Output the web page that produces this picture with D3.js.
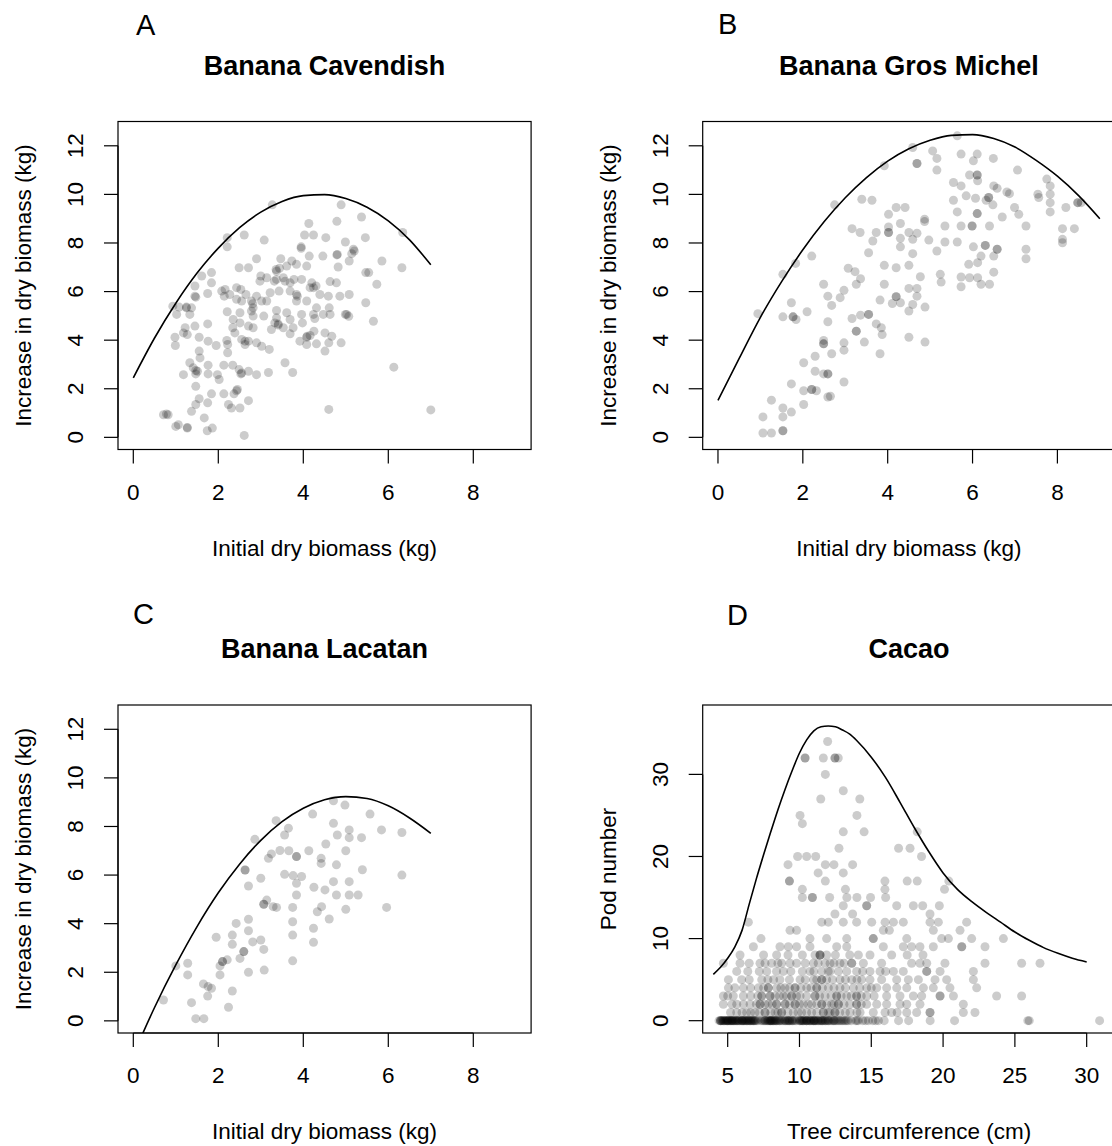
<!DOCTYPE html>
<html><head><meta charset="utf-8">
<script src="https://cdn.jsdelivr.net/npm/d3@7"></script>
<style>body{margin:0;background:#fff}svg{display:block}text{font-family:"Liberation Sans",Arial,Helvetica,sans-serif;fill:#000}</style>
</head><body><svg id="c" width="1112" height="1146"></svg>
<script>
// ---------- DATA ----------
const bioTicksX = [0, 2, 4, 6, 8];
const bioTicksY = [0, 2, 4, 6, 8, 10, 12];
const cacaoTicksX = [5, 10, 15, 20, 25, 30];
const cacaoTicksY = [0, 10, 20, 30];

// Banana Cavendish: [initial dry biomass, increase]
const cavendish = [[3.27,9.57],[4.89,9.57],[4.13,8.80],[4.79,8.89],[5.37,9.07],[6.34,8.43],[2.21,8.22],[2.61,8.33],[3.08,8.12],[4.03,8.33],[4.24,8.33],[4.53,8.22],[5.46,8.22],[2.21,7.84],[3.95,7.84],[4.99,8.04],[5.18,7.74],[5.14,7.56],[2.90,7.35],[3.47,7.35],[3.73,7.26],[4.14,7.46],[4.46,7.46],[4.79,7.51],[5.08,7.26],[5.85,7.26],[2.49,6.98],[2.71,6.98],[3.36,6.91],[3.44,6.96],[3.61,7.05],[3.84,7.12],[4.08,7.05],[4.82,7.01],[5.47,6.78],[5.54,6.78],[6.32,6.98],[1.84,6.78],[1.61,6.64],[3.00,6.64],[3.14,6.57],[3.37,6.50],[3.57,6.43],[3.78,6.50],[3.96,6.50],[4.20,6.36],[4.30,6.23],[4.63,6.41],[4.78,6.36],[5.73,6.30],[1.84,6.36],[1.45,6.23],[2.08,6.02],[2.16,6.09],[2.43,6.16],[2.53,6.09],[2.65,5.88],[1.45,5.81],[1.75,5.92],[2.27,5.88],[3.22,5.95],[3.43,6.02],[3.69,6.02],[3.84,5.88],[4.16,6.16],[4.39,5.88],[4.59,5.81],[4.86,5.81],[5.08,5.88],[0.93,5.40],[1.08,5.36],[1.25,5.36],[1.37,5.33],[1.02,5.06],[1.33,5.06],[2.43,5.68],[2.78,5.61],[2.82,5.33],[2.90,5.81],[3.14,5.61],[3.37,5.22],[3.61,5.13],[3.84,5.61],[4.08,5.61],[4.31,5.33],[4.61,5.33],[5.47,5.54],[2.21,5.17],[2.51,5.13],[2.82,4.99],[3.07,4.99],[3.96,5.06],[4.24,5.06],[4.27,4.89],[4.99,5.06],[5.07,4.98],[5.65,4.78],[1.75,4.67],[1.45,4.58],[1.22,4.51],[2.34,4.51],[2.51,4.71],[2.71,4.58],[3.33,4.71],[3.41,4.67],[3.25,4.44],[3.53,4.51],[3.69,4.26],[3.76,4.51],[3.98,4.71],[4.08,4.12],[4.16,4.19],[4.25,4.37],[4.51,4.30],[4.67,4.16],[1.18,4.30],[0.98,4.12],[0.99,3.78],[1.27,4.23],[1.55,4.12],[1.76,3.96],[1.95,3.78],[2.20,3.99],[2.22,3.82],[2.39,4.30],[2.55,4.03],[2.63,3.82],[2.71,3.96],[2.90,3.89],[3.02,3.75],[3.20,3.62],[3.92,3.96],[4.08,3.82],[4.31,3.85],[4.51,3.55],[4.60,3.89],[4.89,3.89],[1.55,3.55],[1.57,3.27],[2.22,3.48],[1.33,3.07],[1.41,2.86],[1.51,2.72],[1.18,2.58],[1.47,2.61],[1.76,2.97],[1.76,2.61],[1.98,2.58],[2.02,2.38],[2.13,2.97],[2.34,2.97],[2.49,2.79],[2.53,2.61],[2.71,2.72],[2.90,2.58],[3.18,2.67],[3.57,3.07],[3.75,2.67],[6.13,2.89],[1.47,2.10],[1.55,1.59],[1.47,1.35],[1.37,1.07],[1.75,1.42],[1.84,1.79],[2.13,1.79],[2.24,1.35],[2.31,1.21],[2.37,1.79],[2.45,1.97],[2.51,1.21],[2.71,1.51],[0.71,0.93],[0.82,0.93],[1.00,0.45],[1.27,0.38],[1.06,0.52],[1.67,0.80],[1.74,0.27],[1.86,0.38],[2.61,0.08],[4.60,1.15],[7.00,1.13],[3.37,6.84],[3.32,6.43],[2.81,5.50],[2.63,3.96],[2.55,2.65],[1.47,2.75],[1.27,0.41],[3.95,7.78],[3.86,5.81],[4.09,4.16],[3.41,4.62],[4.80,7.53],[5.20,7.67],[5.02,5.06],[1.47,5.77],[2.78,5.20],[2.43,1.92],[0.78,0.96],[1.25,5.33],[4.24,6.16],[3.53,6.57],[3.69,6.36],[2.98,6.43],[2.14,5.81],[2.55,5.61],[3.02,5.61],[3.37,4.92],[3.69,4.85],[2.35,4.85],[2.82,4.51],[4.47,5.06],[4.63,5.06]];

// Banana Gros Michel
const grosMichel = [[5.64,12.41],[4.59,11.93],[5.06,11.79],[5.16,11.48],[5.73,11.66],[6.11,11.66],[6.02,11.38],[6.49,11.48],[4.69,11.27],[4.69,11.27],[3.92,11.18],[5.16,11.00],[7.06,11.00],[5.93,10.80],[6.11,10.80],[6.11,10.80],[6.12,10.56],[5.55,10.49],[5.73,10.35],[6.50,10.35],[6.58,10.25],[6.81,10.10],[6.87,10.03],[7.75,10.63],[7.83,10.35],[7.83,10.01],[7.54,10.01],[7.56,9.87],[5.85,9.94],[6.07,9.84],[6.32,9.76],[6.38,9.87],[6.38,9.87],[6.48,9.57],[5.55,9.76],[7.83,9.66],[7.83,9.28],[8.20,9.46],[8.48,9.66],[8.48,9.66],[8.56,9.66],[6.99,9.46],[7.09,9.18],[6.70,9.07],[7.26,8.70],[6.11,9.21],[6.11,9.21],[5.64,9.28],[3.39,9.80],[3.63,9.76],[2.75,9.57],[4.02,9.18],[4.20,9.46],[4.41,9.46],[4.87,8.98],[4.87,8.88],[4.30,8.80],[4.02,8.66],[4.02,8.43],[4.02,8.43],[5.35,8.70],[5.73,8.70],[5.99,8.70],[5.99,8.70],[6.40,8.70],[3.16,8.59],[3.35,8.43],[3.73,8.43],[3.65,8.08],[4.30,8.19],[4.30,7.84],[4.50,8.43],[4.69,8.40],[4.59,8.15],[4.97,8.12],[5.35,8.04],[5.64,8.04],[8.12,8.59],[8.40,8.59],[8.12,8.15],[8.12,8.01],[6.02,7.84],[6.30,7.90],[6.30,7.90],[6.58,7.74],[6.58,7.74],[6.50,7.46],[7.26,7.74],[7.26,7.35],[5.16,7.67],[3.55,7.60],[4.59,7.56],[2.21,7.46],[1.83,7.16],[1.53,6.71],[3.07,6.96],[3.23,6.82],[3.36,6.53],[3.26,6.30],[3.92,7.08],[4.20,6.98],[4.50,7.08],[5.91,7.12],[6.20,7.46],[6.12,7.19],[6.50,6.80],[5.24,6.71],[5.26,6.39],[5.73,6.60],[5.73,6.20],[5.93,6.57],[6.12,6.57],[6.20,6.30],[6.40,6.30],[4.77,6.61],[3.92,6.30],[2.49,6.30],[2.97,6.05],[2.88,5.75],[2.59,5.81],[2.68,5.43],[3.82,5.65],[4.20,5.79],[4.20,5.79],[4.30,5.54],[4.11,5.51],[4.50,6.13],[4.69,6.13],[4.69,5.81],[4.59,5.47],[4.50,5.20],[4.88,5.36],[1.73,5.54],[0.94,5.09],[1.53,4.96],[1.77,4.96],[1.77,4.96],[1.84,4.85],[2.10,5.17],[3.16,4.89],[3.36,5.03],[3.55,5.06],[3.55,5.06],[2.59,4.76],[3.73,4.67],[3.85,4.51],[3.87,4.23],[3.26,4.37],[3.26,4.37],[2.49,3.99],[2.49,3.85],[2.49,3.85],[2.97,3.89],[2.97,3.59],[3.45,3.92],[3.82,3.44],[4.50,4.12],[4.88,3.92],[2.68,3.44],[2.29,3.34],[2.02,3.07],[2.29,2.72],[2.49,2.61],[2.59,2.61],[2.59,2.61],[2.97,2.28],[1.73,2.20],[2.21,1.97],[2.21,1.97],[2.02,1.92],[2.32,1.92],[2.59,1.66],[2.65,1.69],[2.02,1.35],[1.26,1.53],[1.53,1.21],[1.73,1.04],[1.53,0.84],[1.06,0.84],[1.06,0.18],[1.26,0.18],[1.53,0.27],[1.53,0.27]];

// Banana Lacatan
const lacatan = [[4.71,9.06],[4.98,8.88],[4.22,8.51],[5.57,8.51],[3.36,8.24],[3.65,7.93],[4.71,8.13],[5.08,7.86],[3.56,7.65],[4.80,7.65],[5.08,7.54],[5.37,7.54],[5.84,7.86],[6.32,7.75],[2.86,7.47],[4.53,7.28],[5.00,7.00],[4.13,7.00],[3.25,6.87],[3.45,7.01],[3.66,7.00],[3.18,6.69],[3.84,6.76],[3.84,6.76],[4.42,6.69],[4.42,6.48],[4.78,6.42],[2.63,6.21],[2.63,6.21],[5.39,6.22],[3.00,5.87],[2.71,5.55],[3.56,6.03],[3.76,5.98],[3.96,5.94],[3.84,5.66],[4.25,5.50],[4.51,5.39],[4.71,5.73],[5.08,5.73],[6.32,6.00],[3.84,5.18],[4.78,5.18],[5.08,5.18],[5.29,5.18],[3.14,4.97],[5.00,4.59],[4.33,4.49],[4.43,4.70],[4.61,4.19],[5.96,4.67],[3.75,4.67],[3.07,4.80],[3.07,4.80],[3.29,4.70],[3.37,4.67],[3.75,4.08],[3.75,3.53],[2.71,4.18],[2.71,3.71],[2.42,4.01],[2.33,3.53],[2.33,3.15],[1.95,3.44],[2.81,3.25],[3.00,3.33],[3.07,2.94],[2.60,2.85],[2.60,2.85],[2.51,2.57],[2.21,2.51],[2.10,2.44],[2.10,2.44],[2.04,2.26],[2.04,1.89],[2.71,2.00],[3.08,2.09],[3.75,2.47],[4.24,3.81],[4.24,3.23],[1.28,2.37],[1.28,1.89],[1.00,2.26],[1.65,1.52],[1.76,1.41],[1.84,1.34],[1.75,1.02],[2.33,1.23],[0.71,0.86],[1.37,0.75],[2.24,0.56],[1.47,0.09],[1.66,0.09]];

// Cacao: [pod number, tree circumferences (cm)]
const cacao = [
 [0,[4.4,4.5,4.5,4.6,4.7,4.7,4.8,4.9,4.9,5.0,5.0,5.1,5.2,5.2,5.3,5.3,5.4,5.5,5.5,5.6,5.7,5.7,5.8,5.9,6.0,6.0,6.1,6.2,6.2,6.3,6.4,6.5,6.5,6.6,6.7,6.8,6.8,6.9,7.0,7.1,7.3,7.5,7.6,7.7,7.8,7.8,7.9,8.0,8.0,8.1,8.2,8.2,8.3,8.4,8.5,8.6,8.7,8.9,9.0,9.1,9.2,9.2,9.3,9.4,9.5,9.6,9.8,10.0,10.1,10.1,10.2,10.3,10.4,10.5,10.5,10.6,10.7,10.8,10.9,11.0,11.0,11.1,11.2,11.3,11.4,11.5,11.6,11.7,11.8,11.9,12.0,12.2,12.4,12.6,12.8,13.1,13.3,13.6,13.9,14.1,14.4,14.8,15.1,15.5,15.9,16.9,17.6,19.1,20.8,25.9,26.0,30.9,4.5,4.6,4.8,5.0,5.1,5.3,5.4,5.6,5.8,6.0,6.1,6.3,6.4,6.6,6.7,6.9,7.4,7.6,7.9,8.0,8.1,8.3,8.4,8.6,8.8,9.0,9.3,9.5,9.7,10.0,10.2,10.3,10.5,10.7,10.8,11.0,11.1,11.3,11.5,11.6,11.8,12.0,12.1,12.3,12.5,12.7,13.0,13.4,14.0,14.6,15.3,12.4,12.9,13.2]],
 [1,[5.63,6.32,6.90,7.60,7.60,8.30,8.76,8.76,9.57,10.15,10.85,11.66,11.66,12.13,12.47,12.47,13.52,14.22,15.14,15.96,16.42,17.47,18.16,19.09,19.09,21.41,22.22,5.2,6.0,6.6,7.2,8.0,8.5,9.2,9.9,10.5,11.2,12.0,12.8,13.2,14.0,16.8]],
 [2,[4.70,5.63,6.56,7.25,7.25,7.83,8.41,8.41,8.99,9.69,9.69,10.27,10.85,11.55,11.55,12.24,12.71,12.71,13.98,13.98,14.68,15.38,16.07,17.47,18.39,21.41,5.3,6.1,7.0,7.6,8.1,9.0,9.3,10.0,10.6,11.2,11.9,12.4,13.1,13.5,14.3,17.0]],
 [3,[4.70,5.39,6.09,7.37,7.37,7.95,7.95,8.88,9.46,9.46,10.04,11.08,11.08,11.78,12.59,12.59,13.29,13.98,13.98,14.68,16.07,17.00,17.93,18.51,19.79,19.79,20.72,23.73,25.47,5.0,6.6,7.1,8.3,8.6,9.1,9.8,10.5,11.4,12.2,12.9,13.6,14.3,15.2]],
 [4,[5.05,6.09,7.14,7.83,7.83,8.41,8.99,9.69,9.69,10.50,11.20,11.20,12.01,12.82,13.75,14.68,15.38,16.07,16.77,17.47,18.63,19.32,20.48,22.34,5.5,6.6,7.5,8.7,9.3,10.1,10.8,11.6,12.4,13.2,14.2,15.0]],
 [5,[5.05,5.97,7.37,8.64,10.04,10.97,11.55,11.55,11.89,12.82,13.64,14.33,14.91,15.72,16.77,17.58,18.28,19.44,20.25,22.11,6.5,7.8,8.2,9.3,10.4,11.2,12.3,13.2,14.0]],
 [6,[5.63,7.72,8.88,10.73,11.55,12.13,12.71,13.29,13.98,14.91,15.61,16.54,17.23,18.86,18.86,19.79,22.11,6.4,7.2,8.4,9.4,10.2,11.0,12.0,14.4,16.0]],
 [7,[4.70,5.86,7.25,8.06,8.76,9.34,9.80,10.97,11.78,12.13,12.82,13.64,13.64,14.45,15.72,17.81,18.39,18.86,20.13,22.92,25.47,26.75,6.5,7.6,8.5,10.4,11.3,12.4,13.1]],
 [8,[5.86,8.41,11.08,11.43,11.43,11.43,11.89,14.10,14.91,16.42,7.5,9.2,10.2,12.5,13.5,17.5,18.6]],
 [9,[6.79,8.64,9.22,9.80,10.73,12.59,13.29,15.84,17.23,17.81,18.39,19.32,21.30,21.30,22.92]],
 [10,[7.32,10.73,11.89,13.29,15.14,15.14,17.47,19.90,20.37,21.99,24.20]],
 [11,[9.34,9.80,15.84,16.26,19.32,21.18]],
 [12,[6.44,11.55,12.01,13.05,13.98,15.03,15.96,16.54,17.23,19.09,19.67,21.64]],
 [13,[12.47,13.70,19.09]],
 [14,[13.05,14.68,14.68,16.77,17.93,18.58,19.74]],
 [15,[10.2,10.9,10.9,12.1,13.3,14.0,14.95,16.0]],
 [16,[10.2,13.2,15.95,20.1]],
 [17,[9.3,9.3,11.8,15.95,17.5,18.2,20.4]],
 [18,[11.3,13.05]],
 [19,[9.2,11.8,12.4,13.7]],
 [20,[9.87,10.5,11.13,18.5]],
 [21,[12.75,16.9,17.7]],
 [23,[13.05,14.5,18.2]],
 [24,[10.2]],
 [25,[10.04,14.0]],
 [27,[11.48,14.2]],
 [28,[13.05]],
 [30,[11.8]],
 [32,[10.39,10.39,11.66,12.47,12.47,12.7]],
 [34,[11.96]]
];

// Fitted boundary curves
const cavCurveX = [0,0.5,1,1.5,2,2.5,3,3.5,4,4.5,5,5.5,6,6.5,7];
const cavCurveY = [2.45,4.09,5.52,6.76,7.79,8.63,9.27,9.71,9.95,9.99,9.83,9.47,8.91,8.13,7.1];
const grosCurveX = [0,0.5,1,1.5,2,2.5,3,3.5,4,4.5,5,5.5,6,6.5,7,7.5,8,8.5,9];
const grosCurveY = [1.52,3.25,4.94,6.41,7.72,8.87,9.86,10.69,11.37,11.88,12.23,12.43,12.46,12.3,11.95,11.4,10.75,9.95,9.0];
const lacCurveX = [0,0.5,1,1.5,2,2.5,3,3.5,4,4.5,5,5.5,6,6.5,7];
const lacCurveY = [-1.4,0.55,2.3,3.88,5.27,6.45,7.43,8.2,8.75,9.1,9.23,9.15,8.85,8.35,7.72];
const cacCurveX = [4,4.5,5,5.5,6,6.5,7,7.5,8,8.5,9,9.5,10,10.5,11,11.5,12,12.5,13,13.5,14,15,16,17,18,19,20,21,22,23,24,25,26,27,28,29,30];
const cacCurveY = [5.65,6.5,7.6,9.0,11.0,14.2,17.3,20.2,23.0,25.7,28.2,30.5,32.6,34.2,35.3,35.8,35.9,35.8,35.4,34.9,34.1,32.1,29.6,26.6,23.5,20.6,18.0,16.0,14.5,13.2,12.0,10.8,9.8,8.9,8.2,7.6,7.15];

// ---------- DRAW ----------
const svg = d3.select('#c');
const FONT = 22.5;

const panels = [
 {id:'A', letter:'A', lx:136, ly:35, title:'Banana Cavendish', x0:118, x1:531.1, y0:121.5, y1:449.5,
  xd:[-0.36,9.36], yd:[-0.5,13], xt:bioTicksX, yt:bioTicksY,
  xlab:'Initial dry biomass (kg)', ylab:'Increase in dry biomass (kg)',
  pts:cavendish, cx:cavCurveX, cy:cavCurveY},
 {id:'B', letter:'B', lx:718, ly:34, title:'Banana Gros Michel', x0:702.7, x1:1115.1, y0:121.5, y1:449.5,
  xd:[-0.36,9.36], yd:[-0.5,13], xt:bioTicksX, yt:bioTicksY,
  xlab:'Initial dry biomass (kg)', ylab:'Increase in dry biomass (kg)',
  pts:grosMichel, cx:grosCurveX, cy:grosCurveY},
 {id:'C', letter:'C', lx:133, ly:624, title:'Banana Lacatan', x0:118, x1:531.1, y0:705, y1:1033,
  xd:[-0.36,9.36], yd:[-0.5,13], xt:bioTicksX, yt:bioTicksY,
  xlab:'Initial dry biomass (kg)', ylab:'Increase in dry biomass (kg)',
  pts:lacatan, cx:lacCurveX, cy:lacCurveY},
 {id:'D', letter:'D', lx:727, ly:625, title:'Cacao', x0:702.7, x1:1115.4, y0:705, y1:1033,
  xd:[3.26,32.0], yd:[-1.5,38.45], xt:cacaoTicksX, yt:cacaoTicksY,
  xlab:'Tree circumference (cm)', ylab:'Pod number',
  pts:cacao.flatMap(([p,cs]) => cs.map(c => [c,p])), cx:cacCurveX, cy:cacCurveY}
];

const defs = svg.append('defs');

panels.forEach(p => {
  const x = d3.scaleLinear().domain(p.xd).range([p.x0, p.x1]);
  const y = d3.scaleLinear().domain(p.yd).range([p.y1, p.y0]);
  const g = svg.append('g');
  const cid = 'clip' + p.id;
  defs.append('clipPath').attr('id', cid).append('rect')
    .attr('x', p.x0).attr('y', p.y0).attr('width', p.x1 - p.x0).attr('height', p.y1 - p.y0);

  // points
  g.append('g').attr('clip-path', `url(#${cid})`).selectAll('circle').data(p.pts).join('circle')
    .attr('cx', d => x(d[0])).attr('cy', d => y(d[1])).attr('r', 4.5)
    .attr('fill', 'rgba(0,0,0,0.2)');

  // curve
  const line = d3.line().x(d => x(d[0])).y(d => y(d[1])).curve(d3.curveMonotoneX);
  g.append('path').attr('clip-path', `url(#${cid})`)
    .datum(p.cx.map((v, i) => [v, p.cy[i]]))
    .attr('d', line).attr('fill', 'none').attr('stroke', '#000').attr('stroke-width', 1.6);

  // box
  g.append('rect').attr('x', p.x0).attr('y', p.y0).attr('width', p.x1 - p.x0).attr('height', p.y1 - p.y0)
    .attr('fill', 'none').attr('stroke', '#000').attr('stroke-width', 1.2);

  // x axis
  const xa = g.append('g');
  xa.append('line').attr('x1', x(p.xt[0])).attr('x2', x(p.xt[p.xt.length - 1]))
    .attr('y1', p.y1).attr('y2', p.y1).attr('stroke', '#000').attr('stroke-width', 1.2);
  xa.selectAll('line.t').data(p.xt).join('line').attr('class', 't')
    .attr('x1', d => x(d)).attr('x2', d => x(d)).attr('y1', p.y1).attr('y2', p.y1 + 14)
    .attr('stroke', '#000').attr('stroke-width', 1.2);
  xa.selectAll('text').data(p.xt).join('text')
    .attr('x', d => x(d)).attr('y', p.y1 + 50).attr('text-anchor', 'middle')
    .attr('font-size', FONT).text(d => d);

  // y axis
  const ya = g.append('g');
  ya.append('line').attr('y1', y(p.yt[0])).attr('y2', y(p.yt[p.yt.length - 1]))
    .attr('x1', p.x0).attr('x2', p.x0).attr('stroke', '#000').attr('stroke-width', 1.2);
  ya.selectAll('line.t').data(p.yt).join('line').attr('class', 't')
    .attr('y1', d => y(d)).attr('y2', d => y(d)).attr('x1', p.x0).attr('x2', p.x0 - 14)
    .attr('stroke', '#000').attr('stroke-width', 1.2);
  ya.selectAll('text').data(p.yt).join('text')
    .attr('transform', d => `translate(${p.x0 - 35},${y(d)}) rotate(-90)`)
    .attr('text-anchor', 'middle').attr('font-size', FONT).text(d => d);

  const cxm = (p.x0 + p.x1) / 2, cym = (p.y0 + p.y1) / 2;
  g.append('text').attr('x', cxm).attr('y', p.y1 + 106).attr('text-anchor', 'middle')
    .attr('font-size', FONT).text(p.xlab);
  g.append('text').attr('transform', `translate(${p.x0 - 87},${cym}) rotate(-90)`)
    .attr('text-anchor', 'middle').attr('font-size', FONT).text(p.ylab);
  g.append('text').attr('x', cxm).attr('y', p.y0 - 47).attr('text-anchor', 'middle')
    .attr('font-size', 27).attr('font-weight', 'bold').text(p.title);
  g.append('text').attr('x', p.lx).attr('y', p.ly).attr('font-size', 29).text(p.letter);
});
</script>
</body></html>
